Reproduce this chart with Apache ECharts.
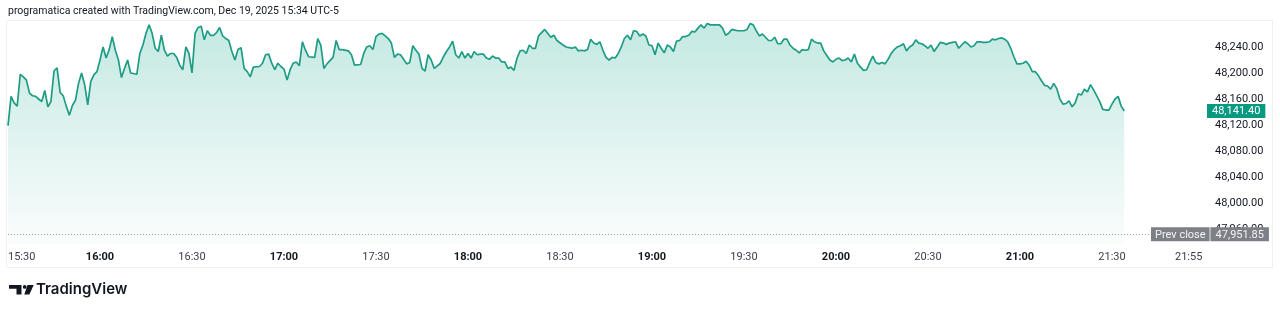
<!DOCTYPE html>
<html><head><meta charset="utf-8">
<script src="https://cdn.jsdelivr.net/npm/echarts@6/dist/echarts.min.js"></script>
<style>html,body{margin:0;padding:0;background:#fff;}#chart{width:1280px;height:314px;}</style>
</head><body><div id="chart"></div>
<script>
// Session start; x values are minutes after this time
const startTime = '15:30';
const minuteOffsets = [
0,1,2,3,4,5,6,7,8,9,10,11,12,13,14,15,16,17,18,19,20,21,22,23,24,25,26,27,28,29,
30,31,32,33,34,35,36,37,38,39,40,42,43,44,45,46,47,48,49,50,51,52,53,54,55,56,57,58,59,
60,61,62,63,64,65,66,67,68,69,70,71,72,73,74,75,76,77,78,79,80,82,83,84,85,86,87,88,89,
90,91,92,93,94,95,96,97,98,100,101,102,103,104,106,107,108,109,111,112,113,115,116,117,118,119,
120,121,122,123,124,125,126,127,128,129,130,131,132,133,134,135,136,137,138,139,140,141,142,143,144,145,146,147,148,149,
150,151,152,153,154,155,156,157,158,159,160,161,162,163,164,165,166,167,168,169,170,171,172,173,174,175,176,177,178,179,
181,182,183,184,185,186,187,188,189,190,191,192,193,194,195,196,197,198,199,200,201,202,203,204,205,206,207,208,209,
210,211,212,213,214,215,216,217,218,219,220,221,222,223,224,225,226,227,228,229,230,232,233,234,235,236,237,238,
240,241,242,243,244,245,246,247,248,249,250,251,252,253,254,255,256,257,258,259,260,261,262,263,264,265,266,267,268,269,
270,271,272,273,274,275,276,277,278,279,280,281,282,283,284,285,286,287,288,289,290,291,292,293,294,295,296,297,298,299,
300,301,302,303,304,305,306,307,308,309,310,311,312,313,314,315,316,317,318,319,320,321,322,323,324,325,326,327,328,329,
330,331,332,333,334,335,336,337,338,339,340,341,342,343,344,345,346,347,348,349,350,351,352,353,354,355,356,357,358,359,
360,361,362,363,364
];
const prices = [
48119,48164,48154,48149,48198,48194,48189,48169,48165,48164,48160,48156,48173,48148,48156,48203,48208,48170,48165,48149,48135,48150,48158,48184,48200,48182,48151,48187,48197,48202,
48220,48240,48223,48236,48256,48235,48220,48193,48207,48220,48200,48198,48230,48243,48261,48274,48261,48238,48233,48258,48235,48226,48230,48230,48224,48212,48205,48240,48230,
48200,48261,48270,48272,48251,48265,48258,48258,48262,48270,48257,48253,48250,48233,48220,48236,48239,48207,48202,48194,48209,48210,48215,48228,48229,48215,48205,48215,48210,
48206,48189,48205,48215,48217,48211,48248,48235,48225,48224,48253,48243,48207,48214,48224,48250,48236,48236,48234,48228,48212,48213,48230,48240,48242,48236,
48256,48260,48261,48257,48253,48246,48224,48229,48228,48221,48214,48216,48242,48235,48229,48207,48203,48228,48220,48207,48211,48215,48225,48233,48240,48249,48228,48223,48233,48223,
48230,48223,48233,48228,48229,48229,48223,48221,48226,48223,48223,48217,48217,48207,48209,48204,48223,48234,48235,48230,48243,48238,48238,48257,48262,48267,48261,48255,48258,48250,
48243,48240,48239,48238,48240,48234,48235,48234,48236,48252,48246,48244,48248,48235,48224,48220,48224,48223,48230,48240,48253,48258,48251,48265,48264,48257,48260,48257,48243,
48242,48228,48246,48238,48231,48243,48240,48233,48249,48250,48256,48256,48258,48264,48263,48269,48274,48269,48276,48274,48274,48274,48269,48258,48261,48267,48266,48265,
48265,48267,48276,48274,48265,48257,48260,48255,48250,48250,48255,48245,48245,48252,48252,48243,48238,48235,48231,48236,48235,48236,48252,48248,48246,48246,48234,48227,48220,48217,
48221,48223,48219,48220,48223,48217,48229,48215,48209,48204,48205,48216,48226,48216,48214,48216,48214,48221,48230,48236,48240,48242,48245,48234,48240,48243,48251,48246,48245,48242,
48238,48243,48233,48240,48247,48246,48244,48246,48247,48248,48238,48243,48248,48245,48240,48242,48248,48248,48247,48247,48248,48252,48251,48253,48254,48252,48248,48238,48225,48214,
48214,48215,48218,48212,48202,48202,48196,48188,48181,48180,48175,48184,48176,48160,48152,48153,48157,48148,48154,48168,48166,48175,48171,48182,48174,48165,48156,48144,48143,48143,
48152,48160,48164,48149,48141.40
];
const priceTicks = [47960, 48000, 48040, 48080, 48120, 48160, 48200, 48240];
const timeTicks = [0, 30, 60, 90, 120, 150, 180, 210, 240, 270, 300, 330, 360, 385];
const lastPrice = 48141.40;
const prevClose = 47951.85;
const titleText = 'programatica created with TradingView.com, Dec 19, 2025 15:34 UTC-5';
const brandText = 'TradingView';

function fmtTime(m) {
  const [h, mm] = startTime.split(':').map(Number);
  const t = h * 60 + mm + m;
  return String(Math.floor(t / 60)).padStart(2, '0') + ':' + String(t % 60).padStart(2, '0');
}
function fmtPrice(v) {
  return Number(v).toLocaleString('en-US', {minimumFractionDigits: 2, maximumFractionDigits: 2});
}

const FONT = 'Roboto';
const chart = echarts.init(document.getElementById('chart'), null, {renderer: 'canvas'});
const option = {
  animation: false,
  backgroundColor: '#ffffff',
  textStyle: {fontFamily: FONT},
  title: {
    text: titleText, left: 8, top: 6, padding: 0,
    textStyle: {fontSize: 10.5, fontWeight: 'normal', color: '#131722', fontFamily: FONT}
  },
  grid: {left: 8, right: 80, top: 20, bottom: 70},
  xAxis: {
    type: 'value', min: 0, max: 388.7,
    axisLine: {show: false}, axisTick: {show: false}, splitLine: {show: false},
    axisLabel: {
      customValues: timeTicks, alignMinLabel: 'left', margin: 8,
      formatter: v => { const s = fmtTime(v); return s.endsWith(':00') ? '{b|' + s + '}' : '{n|' + s + '}'; },
      rich: {
        b: {fontSize: 11, fontWeight: 'bold', color: '#131722', fontFamily: FONT},
        n: {fontSize: 11, color: '#3b3f4a', fontFamily: FONT}
      }
    }
  },
  yAxis: {
    type: 'value', position: 'right', min: 47936.9, max: 48281.5,
    axisLine: {show: false}, axisTick: {show: false}, splitLine: {show: false},
    axisLabel: {customValues: priceTicks, margin: 15, fontSize: 11, color: '#131722', fontFamily: FONT, formatter: fmtPrice}
  },
  series: [{
    type: 'line',
    data: minuteOffsets.map((m, i) => [m, prices[i]]),
    showSymbol: false, symbol: 'none',
    lineStyle: {color: '#1e9c84', width: 1.7},
    areaStyle: {
      origin: 'start',
      color: new echarts.graphic.LinearGradient(0, 0, 0, 1, [
        {offset: 0, color: 'rgba(34,171,148,0.38)'},
        {offset: 1, color: 'rgba(34,171,148,0.03)'}
      ])
    },
    markLine: {
      silent: true, symbol: ['none', 'none'], animation: false,
      data: [
        {
          yAxis: prevClose,
          lineStyle: {type: [1, 2], color: '#a3a6af', width: 1},
          label: {
            position: 'end', distance: [-49, 0],
            formatter: () => '{a|Prev close}{s| }{b|' + fmtPrice(prevClose) + '}',
            rich: {
              a: {backgroundColor: '#7e8088', color: '#f4f4f6', fontSize: 11, padding: [2, 4, 1, 4], fontFamily: FONT},
              s: {width: 1, backgroundColor: '#b8bac0', fontSize: 11, padding: [2, 0, 1, 0]},
              b: {backgroundColor: '#7e8088', color: '#f4f4f6', fontSize: 11, padding: [2, 5, 1, 5], fontFamily: FONT}
            }
          }
        },
        {
          yAxis: lastPrice,
          lineStyle: {color: 'rgba(0,0,0,0)', width: 1},
          label: {
            show: true, position: 'end', distance: 7,
            formatter: () => fmtPrice(lastPrice),
            backgroundColor: '#089981', color: '#ffffff', fontSize: 11, fontFamily: FONT,
            padding: [2, 5, 1, 5]
          }
        }
      ]
    }
  }],
  graphic: [
    {type: 'rect', silent: true, z: -1, shape: {x: 6.5, y: 20.5, width: 1266, height: 247},
     style: {fill: 'none', stroke: '#eef0f4', lineWidth: 1}},
    {type: 'group', left: 9, top: 285, children: [
      {type: 'polygon', shape: {points: [[0,0],[12.5,0],[12.5,9.5],[7.5,9.5],[7.5,3.8],[0,3.8]]}, style: {fill: '#131722'}},
      {type: 'circle', shape: {cx: 15.7, cy: 1.9, r: 1.9}, style: {fill: '#131722'}},
      {type: 'polygon', shape: {points: [[18.5,0],[24.7,0],[20.4,9.5],[15.3,9.5]]}, style: {fill: '#131722'}}
    ]},
    {type: 'text', left: 36, top: 282, style: {text: brandText, fontSize: 15, fontWeight: 600, fill: '#131722', fontFamily: 'Inter'}}
  ]
};
chart.setOption(option);
</script>
</body></html>
